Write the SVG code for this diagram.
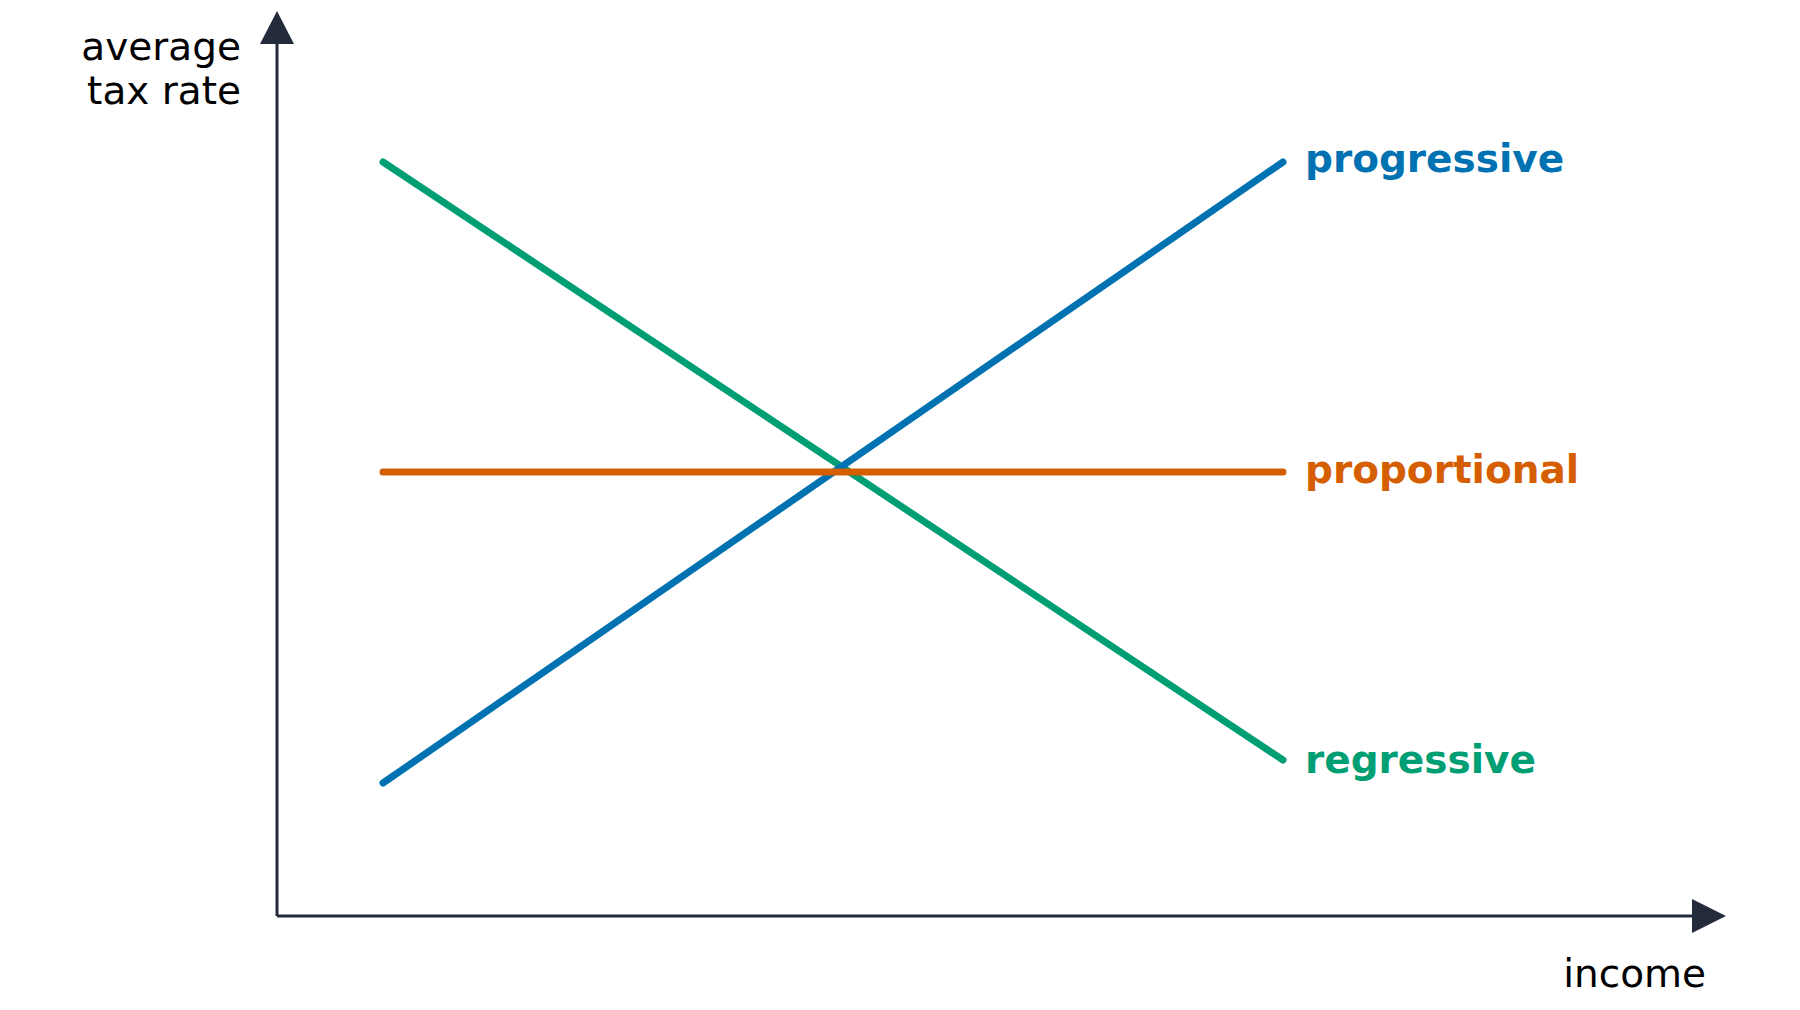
<svg xmlns="http://www.w3.org/2000/svg" width="1800" height="1010" viewBox="0 0 1800 1010">
<style>
text{font-family:"DejaVu Sans",sans-serif;font-size:39px}
.ax{fill:#000}
.b{font-weight:bold}
.ln{fill:none;stroke-width:7;stroke-linecap:round}
</style>
<rect width="1800" height="1010" fill="#fff"/>
<g id="axes">
<path d="M277,916 V40 M277,916 H1695" stroke="#232b3a" stroke-width="3" fill="none"/>
<polygon points="277,11 294,44 260,44" fill="#232b3a"/>
<polygon points="1726,916 1692,899 1692,933" fill="#232b3a"/>
</g>
<g id="labels">
<text class="ax" x="241" y="60" text-anchor="end">average</text>
<text class="ax" x="241" y="104" text-anchor="end">tax rate</text>
<text class="ax" x="1706" y="987" text-anchor="end">income</text>
</g>
<g id="connectors">
<line class="ln" x1="383" y1="162" x2="1283" y2="760" stroke="#009e73"/>
<line class="ln" x1="383" y1="783" x2="1283" y2="162" stroke="#0072b2"/>
<line class="ln" x1="383" y1="472" x2="1283" y2="472" stroke="#d55e00"/>
</g>
<g id="progressive"><text class="b" x="1305" y="172" fill="#0072b2">progressive</text></g>
<g id="proportional"><text class="b" x="1305" y="483" fill="#d55e00">proportional</text></g>
<g id="regressive"><text class="b" x="1305" y="773" fill="#009e73">regressive</text></g>
</svg>
